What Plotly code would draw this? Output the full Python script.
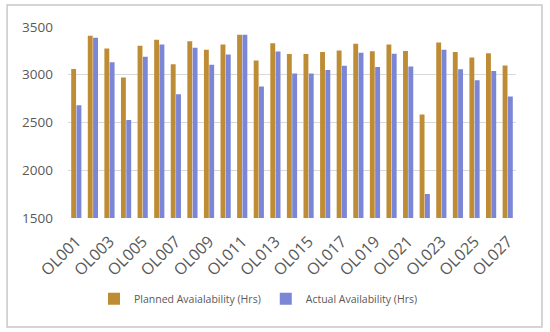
import plotly.graph_objects as go

categories = [f"OL{i:03d}" for i in range(1, 28)]
planned = [3060, 3408, 3275, 2971, 3303, 3366, 3111, 3352, 3261, 3317,
           3418, 3149, 3331, 3216, 3216, 3237, 3254, 3324, 3247, 3317,
           3250, 2583, 3338, 3237, 3180, 3226, 3096]
actual = [2680, 3387, 3132, 2527, 3188, 3317, 2797, 3282, 3104, 3212,
          3418, 2876, 3243, 3013, 3013, 3051, 3093, 3230, 3080, 3219,
          3086, 1752, 3261, 3058, 2943, 3038, 2771]
tick_labels = categories[::2]

fig = go.Figure()
fig.add_trace(go.Bar(x=categories, y=planned, name="Planned Avaialability (Hrs)",
                     marker=dict(color="#BF8C36", line=dict(width=0))))
fig.add_trace(go.Bar(x=categories, y=actual, name="Actual Availability (Hrs)",
                     marker=dict(color="#7B86D6", line=dict(width=0))))

font_family = "Open Sans, Liberation Sans, sans-serif"
fig.update_layout(
    width=550, height=332,
    margin=dict(l=68, r=34, t=27, b=114, autoexpand=False),
    barmode="group", bargap=0.36, bargroupgap=0.08,
    plot_bgcolor="white", paper_bgcolor="white",
    font=dict(family=font_family, size=13, color="#595959"),
    showlegend=True,
    legend=dict(orientation="h", xref="container", yref="container",
                x=0.47, xanchor="center", y=0.1, yanchor="middle",
                font=dict(size=10.5, color="#595959"),
                itemwidth=30, traceorder="normal"),
    xaxis=dict(tickmode="array", tickvals=tick_labels, ticktext=tick_labels,
               tickangle=-45, showgrid=False, showline=False, ticks="",
               tickfont=dict(size=16), ticklabelstandoff=10),
    yaxis=dict(range=[1500, 3500], dtick=500, showgrid=True,
               gridcolor="#D9D9D9", gridwidth=1, zeroline=False,
               ticks="", tickfont=dict(size=13.5), ticklabelstandoff=14),
    shapes=[dict(type="rect", xref="paper", yref="paper",
                 x0=-0.136, x1=1.058, y0=-0.571, y1=1.115,
                 line=dict(color="#C8C8C8", width=1.5), layer="above")],
)
fig.write_html("out.html", config={"displayModeBar": False},
               post_script="document.body.style.margin='0';document.body.style.overflow='hidden';")
